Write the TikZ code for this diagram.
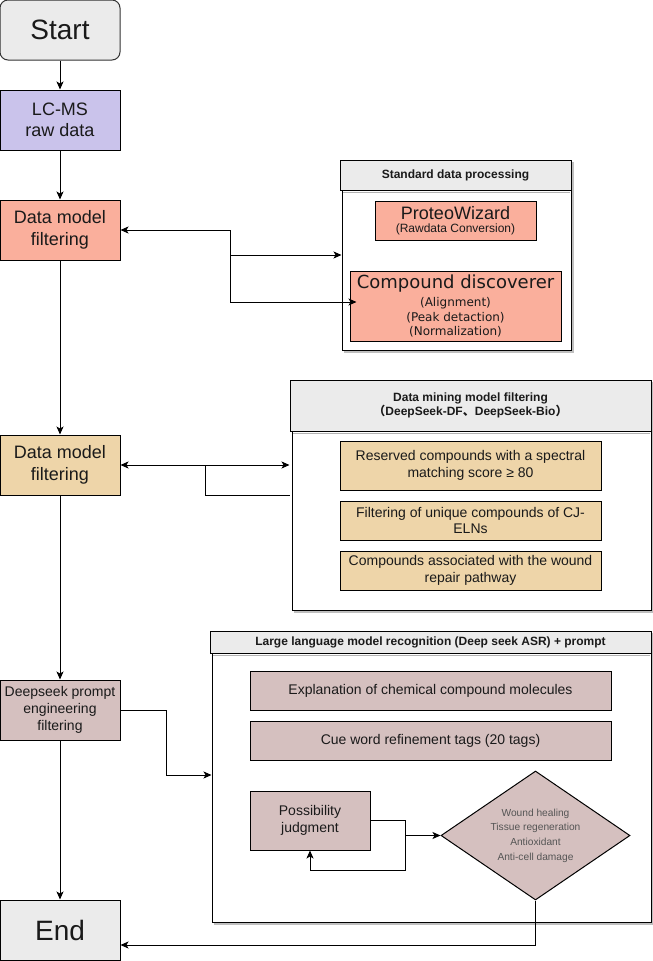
\documentclass[tikz,border=0pt]{standalone}
\usepackage{fontspec}
\setmainfont{Liberation Sans}
\newfontfamily\dejavu{DejaVu Sans}
\newfontfamily\cjk{Noto Sans CJK SC}
\usetikzlibrary{shapes.geometric,arrows.meta}
\definecolor{cgrey}{HTML}{EBEBEB}
\definecolor{clav}{HTML}{CAC3EB}
\definecolor{csalmon}{HTML}{FAAF9C}
\definecolor{ctan}{HTML}{EED5A9}
\definecolor{cmauve}{HTML}{D5C0BF}
\definecolor{ctext}{HTML}{1A1A1A}
\definecolor{cdia}{HTML}{555555}
\newcommand{\fs}[1]{\fontsize{#1pt}{\dimexpr #1pt*6/5\relax}\selectfont}
\begin{document}
\begin{tikzpicture}[x=1pt,y=-1pt,
  every node/.style={text=ctext},
  box/.style={draw=black,line width=1pt,inner sep=2pt,align=center,minimum width=#1},
  box/.default=120pt,
  mainbox/.style={box,minimum height=60pt},
  hdr/.style={draw=black,line width=1pt,fill=cgrey,align=center,inner sep=0pt,font=\bfseries\fs{12}},
  body/.style={draw=black,line width=1pt,fill=white,inner sep=0pt},
  shadow/.style={draw=black!25,line width=1.2pt},
  arr/.style={line width=1pt,-{Stealth[length=8pt,width=7pt,inset=2pt]}},
  darr/.style={line width=1pt,{Stealth[length=8pt,width=7pt,inset=2pt]}-{Stealth[length=8pt,width=7pt,inset=2pt]}},
  ln/.style={line width=1pt}
]
\useasboundingbox (0,0) rectangle (653,961);

% main column
\node[mainbox,fill=cgrey,rounded corners=8pt,draw=black!80,font=\fs{28}] (start) at (60,30) {Start};
\node[mainbox,fill=clav,font=\fs{18}] (lcms) at (60,120) {LC-MS\\raw data};
\node[mainbox,fill=csalmon,font=\fs{18}] (dmf1) at (60,230) {Data model\\filtering};
\node[mainbox,fill=ctan,font=\fs{18}] (dmf2) at (60,465) {Data model\\filtering};
\node[mainbox,fill=cmauve,font=\fs{14}] (deep) at (60,710) {Deepseek prompt\\engineering\\filtering};
\node[mainbox,fill=cgrey,font=\fs{28}] (end) at (60,930) {End};

\draw[arr] (start) -- (lcms);
\draw[arr] (lcms) -- (dmf1);
\draw[arr] (dmf1) -- (dmf2);
\draw[arr] (dmf2) -- (deep);
\draw[arr] (deep) -- (end);

% Standard data processing group
\draw[shadow] (344,352) -- (573,352) -- (573,162);
\node[body,minimum width=229pt,minimum height=160pt] (stdb) at (456.5,270) {};
\draw[draw=black!30,line width=1pt] (343,192) -- (570,192);
\node[hdr,minimum width=231pt,minimum height=30pt] (stdh) at (455.5,175) {Standard data processing};
\node[box=161pt,fill=csalmon,minimum height=39pt,inner sep=0pt,font=\fs{12}] (pw) at (455.5,220.5)
  {{\fs{18}ProteoWizard}\\[-1pt](Rawdata Conversion)};
\node[box=211pt,fill=csalmon,minimum height=70pt,inner sep=0pt,font=\dejavu\fs{12}] (cd) at (455.5,306)
  {{\fs{18}Compound discoverer}\\[4pt](Alignment)\\(Peak detaction)\\(Normalization)};

\coordinate (j1) at (230,230);
\coordinate (j2) at (230,255);
\coordinate (j3) at (230,302);
\draw[arr] (j1) -- (dmf1.east |- j1);
\draw[ln] (j1) -- (j3);
\draw[arr] (j3) -- ([xshift=7pt]cd.west |- j3);
\draw[arr] (j2) -- (stdb.west |- j2);

% Data mining group
\draw[shadow] (294,612) -- (653,612) -- (653,382);
\node[body,minimum width=359pt,minimum height=179pt] (dmb) at (471.5,520.5) {};
\draw[draw=black!30,line width=1pt] (293,433) -- (650,433);
\node[hdr,minimum width=361pt,minimum height=51pt] (dmh) at (470.5,405.5)
  {Data mining model filtering\\{\cjk （}DeepSeek-DF{\cjk 、}DeepSeek-Bio{\cjk ）}};
\node[box=261pt,fill=ctan,minimum height=49pt,font=\fs{14}] (ba) at (470.5,465.5)
  {Reserved compounds with a spectral\\matching score ≥ 80};
\node[box=261pt,fill=ctan,minimum height=39pt,font=\fs{14}] (bb) at (470.5,520.5)
  {Filtering of unique compounds of CJ-\\ELNs};
\node[box=261pt,fill=ctan,minimum height=39pt,font=\fs{14}] (bc) at (470.5,570.5)
  {Compounds associated with the wound\\repair pathway};

\coordinate (k1) at (205,465);
\coordinate (k2) at (205,495);
\draw[darr] (dmf2.east) -- (dmh.west |- dmf2.east);
\draw[ln] (k1) -- (k2) -- (dmh.west |- k2);

% LLM group
\draw[shadow] (214,924) -- (653,924) -- (653,633);
\node[body,minimum width=439pt,minimum height=269pt] (llmb) at (431.5,787.5) {};
\draw[draw=black!30,line width=1pt] (213,655) -- (650,655);
\node[hdr,minimum width=441pt,minimum height=22pt] (llmh) at (430.5,642)
  {Large language model recognition (Deep seek ASR) + prompt};
\node[box=361pt,fill=cmauve,minimum height=39pt,font=\fs{14}] (expl) at (430.5,690.5)
  {Explanation of chemical compound molecules};
\node[box=361pt,fill=cmauve,minimum height=39pt,font=\fs{14}] (cue) at (430.5,740.5)
  {Cue word refinement tags (20 tags)};
\node[box=120pt,fill=cmauve,minimum height=59pt,font=\fs{14}] (poss) at (310,820.5)
  {Possibility\\judgment};
\node[diamond,draw=black,line width=1pt,fill=cmauve,aspect=1.465,minimum width=189pt,minimum height=129pt,
  inner sep=0pt,align=center,text=cdia,font=\fs{10.2}] (dia) at (535.5,835.5)
  {Wound healing\\[2.5pt]Tissue regeneration\\[2.5pt]Antioxidant\\[2.5pt]Anti-cell damage};

\coordinate (m1) at (166,710);
\coordinate (m2) at (166,775);
\draw[arr] (deep.east) -- (m1) -- (m2) -- (llmb.west |- m2);

\coordinate (p1) at (405,820.5);
\coordinate (p2) at (405,870);
\coordinate (p3) at (310,870);
\coordinate (p4) at (405,835.5);
\draw[arr] (poss.east) -- (p1) -- (p2) -- (p3) -- (poss.south);
\draw[arr] (p4) -- (dia.west);

\coordinate (q1) at (535.5,945);
\draw[arr] (dia.south) -- (q1) -- (end.east |- q1);
\end{tikzpicture}
\end{document}
